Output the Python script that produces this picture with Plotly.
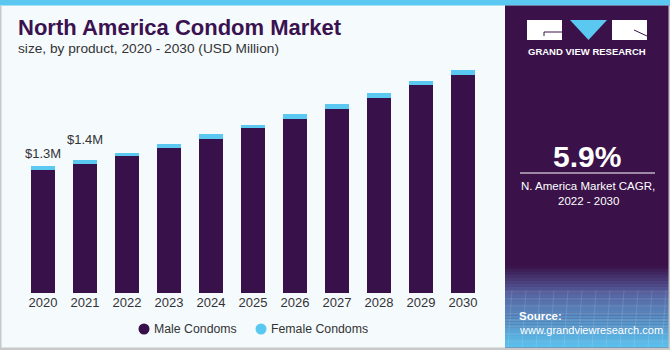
import plotly.graph_objects as go

years = ["2020", "2021", "2022", "2023", "2024", "2025", "2026", "2027", "2028", "2029", "2030"]
male = [1.26, 1.32, 1.40, 1.48, 1.58, 1.69, 1.78, 1.88, 2.00, 2.13, 2.23]
female = [0.04, 0.04, 0.03, 0.05, 0.05, 0.03, 0.05, 0.06, 0.05, 0.04, 0.05]
series_names = ["Male Condoms", "Female Condoms"]
value_labels = {"2020": "$1.3M", "2021": "$1.4M"}
label_shift = {"2020": 3, "2021": 11}

MALE_C = "#38104A"
FEMALE_C = "#5BC8F2"
PANEL_C = "#3A1249"
FONT = "Liberation Sans, Arial, sans-serif"

fig = go.Figure()
fig.add_trace(go.Bar(x=years, y=male, name=series_names[0], marker_color=MALE_C,
                     width=0.57, showlegend=False, marker_line_width=0))
fig.add_trace(go.Bar(x=years, y=female, name=series_names[1], marker_color=FEMALE_C,
                     width=0.57, showlegend=False, marker_line_width=0))

W, H = 670, 350
L, R, T, B = 22, 186, 60, 57
pw, ph = W - L - R, H - T - B

def px_x(px):
    return (px - L) / pw

def px_y(py):
    return (H - B - py) / ph

shapes = []
shapes.append(dict(type="rect", xref="paper", yref="paper", x0=px_x(0), x1=px_x(670),
                   y0=px_y(5.5), y1=px_y(0), line_width=0, fillcolor=FEMALE_C))
# left border and bottom border
shapes.append(dict(type="rect", xref="paper", yref="paper", x0=px_x(0), x1=px_x(1.5),
                   y0=px_y(350), y1=px_y(5.5), line_width=0, fillcolor="#C8C8C8"))
shapes.append(dict(type="rect", xref="paper", yref="paper", x0=px_x(0), x1=px_x(670),
                   y0=px_y(350), y1=px_y(347.5), line_width=0, fillcolor="#C8C8C8"))
# right panel
shapes.append(dict(type="rect", xref="paper", yref="paper", x0=px_x(505), x1=px_x(670),
                   y0=px_y(347.5), y1=px_y(5.5), line_width=0, fillcolor=PANEL_C))
# gradient at bottom of panel
def hex2rgb(h):
    h = h.lstrip("#")
    return tuple(int(h[i:i+2], 16) for i in (0, 2, 4))
c0 = hex2rgb(PANEL_C)
c1 = hex2rgb("#56609F")
c2 = hex2rgb("#5CC2EE")
g_top, g_mid, g_bot = 266, 292, 347.5
n = 28
for i in range(n):
    y0 = g_top + (g_bot - g_top) * i / n
    y1 = g_top + (g_bot - g_top) * (i + 1) / n
    ym = (y0 + y1) / 2
    if ym < g_mid:
        t = (ym - g_top) / (g_mid - g_top)
        a, b = c0, c1
    else:
        t = (ym - g_mid) / (g_bot - g_mid)
        a, b = c1, c2
    col = "rgb(%d,%d,%d)" % tuple(int(a[k] + (b[k] - a[k]) * t) for k in range(3))
    shapes.append(dict(type="rect", xref="paper", yref="paper", x0=px_x(505), x1=px_x(670),
                       y0=px_y(min(y1 + 0.3, g_bot)), y1=px_y(y0), line_width=0, fillcolor=col))
# faint grid lines in the gradient area
for k in range(8):
    yy = 292 + k * 7
    shapes.append(dict(type="line", xref="paper", yref="paper", x0=px_x(505), x1=px_x(668),
                       y0=px_y(yy), y1=px_y(yy), line=dict(color="rgba(255,255,255,0.12)", width=1)))
for k in range(12):
    xx = 512 + k * 14
    shapes.append(dict(type="line", xref="paper", yref="paper", x0=px_x(xx), x1=px_x(xx - 4),
                       y0=px_y(290), y1=px_y(347), line=dict(color="rgba(255,255,255,0.12)", width=1)))
# right edge
shapes.append(dict(type="rect", xref="paper", yref="paper", x0=px_x(668.5), x1=px_x(670),
                   y0=px_y(350), y1=px_y(5.5), line_width=0, fillcolor="#C8C8C8"))
# logo
shapes.append(dict(type="rect", xref="paper", yref="paper", x0=px_x(527), x1=px_x(562),
                   y0=px_y(40), y1=px_y(20), line_width=0, fillcolor="white"))
shapes.append(dict(type="path", xref="paper", yref="paper",
                   path="M %f,%f L %f,%f L %f,%f Z" % (px_x(570), px_y(20), px_x(607), px_y(20),
                                                     px_x(588.5), px_y(40)),
                   line_width=0, fillcolor=FEMALE_C))
shapes.append(dict(type="rect", xref="paper", yref="paper", x0=px_x(612), x1=px_x(647),
                   y0=px_y(40), y1=px_y(20), line_width=0, fillcolor="white"))
shapes.append(dict(type="line", xref="paper", yref="paper", x0=px_x(544), x1=px_x(562),
                   y0=px_y(32), y1=px_y(32), line=dict(color=PANEL_C, width=1)))
shapes.append(dict(type="line", xref="paper", yref="paper", x0=px_x(544), x1=px_x(544),
                   y0=px_y(32), y1=px_y(36), line=dict(color=PANEL_C, width=1)))
shapes.append(dict(type="line", xref="paper", yref="paper", x0=px_x(634), x1=px_x(647),
                   y0=px_y(30), y1=px_y(36), line=dict(color=PANEL_C, width=1)))
# CAGR divider
shapes.append(dict(type="line", xref="paper", yref="paper", x0=px_x(520), x1=px_x(655),
                   y0=px_y(173), y1=px_y(173), line=dict(color="white", width=1)))
# legend markers (circles)
for cx, col in [(144, MALE_C), (261, FEMALE_C)]:
    shapes.append(dict(type="circle", xref="paper", yref="paper",
                       x0=px_x(cx - 5.5), x1=px_x(cx + 5.5), y0=px_y(329 + 5.5), y1=px_y(329 - 5.5),
                       line_width=0, fillcolor=col))

annotations = []
def txt(text, x, y, size, color, bold=False, xanchor="left"):
    annotations.append(dict(text=("<b>%s</b>" % text) if bold else text, xref="paper", yref="paper",
                            x=px_x(x), y=px_y(y), xanchor=xanchor, yanchor="middle",
                            showarrow=False, font=dict(size=size, color=color, family=FONT)))

txt("North America Condom Market", 16, 28, 22, "#3B1250", bold=True)
txt("size, by product, 2020 - 2030 (USD Million)", 16, 49, 13.7, "#333333")
txt("GRAND VIEW RESEARCH", 587, 51.5, 9.5, "white", bold=True, xanchor="center")
txt("5.9%", 587, 156, 30, "white", bold=True, xanchor="center")
txt("N. America Market CAGR,", 588, 186, 11.5, "white", xanchor="center")
txt("2022 - 2030", 588, 201, 11.5, "white", xanchor="center")
txt("Source:", 517, 316, 11.5, "white", bold=True)
txt("www.grandviewresearch.com", 517, 330, 11, "white")
# legend texts
txt(series_names[0], 152, 329, 12.3, "#333333")
txt(series_names[1], 269, 329, 12.3, "#333333")

for yr, lab in value_labels.items():
    i = years.index(yr)
    annotations.append(dict(text=lab, x=i, y=male[i] + female[i], xref="x", yref="y",
                            yanchor="bottom", yshift=label_shift[yr], showarrow=False,
                            font=dict(size=13, color="#333333", family=FONT)))

fig.update_layout(
    width=W, height=H,
    margin=dict(l=L, r=R, t=T, b=B, autoexpand=False),
    barmode="stack",
    paper_bgcolor="#F5FAFD",
    plot_bgcolor="#F5FAFD",
    shapes=shapes,
    annotations=annotations,
    showlegend=False,
    xaxis=dict(type="category", range=[-0.5, 10.5], showgrid=False, showline=False,
               zeroline=False, ticks="", automargin=False,
               tickfont=dict(size=13, color="#333333", family=FONT)),
    yaxis=dict(range=[0, 2.386], visible=False, showgrid=False, zeroline=False),
)

fig.write_html("out.html")
